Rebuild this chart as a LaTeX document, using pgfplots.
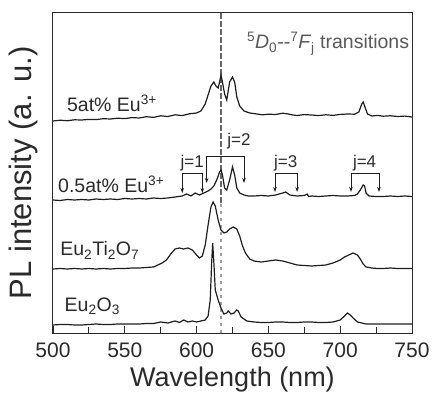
\documentclass[border=0pt]{standalone}
\usepackage{fontspec}
\setmainfont{Liberation Sans}
\usepackage{pgfplots}
\pgfplotsset{compat=1.18}
\usetikzlibrary{arrows.meta}

\definecolor{txt}{HTML}{2A2A2A}
\definecolor{ln}{HTML}{1E1E1E}

\pgfplotstableread{
x y
500 212
505 212.8
510 212.3
515 213.2
520 213
525 213.6
530 213.4
535 214.3
540 214
545 214.8
550 214.4
555 215.4
560 215
565 216.3
570 215.6
575 217.2
580 216.5
585 218.2
590 217.4
595 219.2
600 220
603 222
606 229
608 238
610 247
612 251
613.5 247
615 245
616 251
617 258
618 251
619.5 239
621 233
623 251
625 256
626.5 251
628 236
630 227
633 222
637 220
642 219
646 218.2
650 218.8
655 218.5
660 219.8
663 219.2
667 218
670 217.5
675 218.4
680 218
685 217.4
690 218.2
695 217.6
700 218.6
705 219
710 218.8
713 221
715 229
716 231
717 227
719 219
722 217
726 217.6
730 216.8
735 217.2
740 216.5
745 216.9
750 216
}\fivepct

\pgfplotstableread{
x y
500 133
505 132.5
510 133.5
515 133
520 133.5
525 133
530 134
535 133.5
540 134
545 133.5
550 134.5
555 134
560 134.5
565 134
570 135
575 134.5
580 135
585 136
590 137
593 139
596 137
599 140
602 138
605 140
608 142
610 144
612 147
614 153
616 161
617 163
618 158
619.5 145
621 143
623 153
625 166
626.5 158
628 145
630 140
633 138
636 137
640 137
645 137.5
650 137
655 138
660 140
662 141
665 138
670 137
675 137.5
677 139
678 136.5
680 137
685 136.5
690 137
695 137.5
700 137
705 137
710 137.5
712 139
714 143
716 148
717 147
718 140
720 137
725 136.5
730 136.5
735 137
740 136.5
745 137
750 136.5
}\halfpct

\pgfplotstableread{
x y
500 64
505 64.5
510 64
515 64.5
520 64
525 64.5
530 64
535 64.5
540 64
545 64.5
550 64.5
555 65
560 65
565 65.5
570 66
573 68
576 70
579 73
582 79
585 84
588 85
591 84
594 85
597 83
600 78
602 75
604 77
606 88
608 108
610 126
611.5 131
613 127
615 113
617 103
619 100
621 101
623 104
625.5 106
628 104
630 97
632 87
634 80
637 74
640 72
645 71
650 72
655 73
660 72
665 70
670 68
675 67.5
680 67
685 67.5
690 68
695 70
700 73
703 76
706 78
709 80
712 78
714 74
716 69
718 66
722 65
726 64.5
730 64.5
735 65
740 64.5
745 64.5
750 64.5
}\ettio

\pgfplotstableread{
x y
500 8
505 8.5
510 8.5
515 8
520 8
525 8.5
530 9
535 8.5
540 8.5
545 9
550 9
555 9
560 9
565 9.5
570 9.5
575 11
580 10
585 12
588 10.5
591 13
594 11
597 12
600 11
603 12
606 13
608 17
609.5 33
610.5 71
611.2 90
612 71
613 43
614 38
615 33
617 25
619 19
621 20
622 22
624 19
626 20
628 23
629 22
631 16
635 12
640 11
645 10.5
650 10.5
655 11
660 11
665 10.5
670 10.5
675 11
680 11
685 10.5
690 10.5
695 11
700 13
703 17
705 20
707 18
709 15
712 11
718 9
724 9
730 9
735 9
740 9
745 9
750 9
}\euo

\begin{document}
\begin{tikzpicture}
\begin{axis}[
    width=359pt, height=320pt,
    scale only axis,
    xmin=500, xmax=750,
    ymin=0, ymax=320,
    xtick={500,550,...,750},
    minor x tick num=1,
    ytick=\empty,
    xtick pos=bottom,
    tick align=inside,
    major tick length=7pt,
    minor tick length=6pt,
    axis line style={line width=1pt, color=txt},
    every tick/.style={line width=0.9pt, color=txt},
    /pgf/number format/assume math mode=true,
    xticklabel style={font=\fontsize{21}{21}\selectfont, text=txt, yshift=-6pt},
    xlabel={Wavelength (nm)},
    xlabel style={font=\fontsize{27}{27}\selectfont, text=txt, yshift=-3pt},
    ylabel={PL intensity (a. u.)},
    ylabel style={font=\fontsize{31}{31}\selectfont, text=txt,
        at={([xshift=-15pt]axis description cs:0,0.5)}, anchor=south, inner sep=0pt},
    clip=false,
]
% reference line at 617 nm
\draw[gray!75, line width=2pt, dash pattern=on 3pt off 4pt] (axis cs:617,0) -- (axis cs:617,130);
\draw[black!60, line width=2pt, dash pattern=on 6pt off 2pt] (axis cs:617,130) -- (axis cs:617,320);

\addplot[ln, line width=1.2pt] table[x=x,y=y] {\fivepct};
\addplot[ln, line width=1.2pt] table[x=x,y=y] {\halfpct};
\addplot[ln, line width=1.2pt] table[x=x,y=y] {\ettio};
\addplot[ln, line width=1.2pt] table[x=x,y=y] {\euo};

% transition brackets
\draw[ln, line width=0.8pt, {Stealth[length=5pt,width=3.5pt]}-{Stealth[length=5pt,width=3.5pt]}]
    (axis cs:590,140) |- (axis cs:604,160) -- (axis cs:604,140);
\draw[ln, line width=0.8pt, {Stealth[length=5pt,width=3.5pt]}-{Stealth[length=5pt,width=3.5pt]}]
    (axis cs:607,150) |- (axis cs:633,177) -- (axis cs:633,150);
\draw[ln, line width=0.8pt, {Stealth[length=5pt,width=3.5pt]}-{Stealth[length=5pt,width=3.5pt]}]
    (axis cs:654.6,141) |- (axis cs:670,160) -- (axis cs:670,141);
\draw[ln, line width=0.8pt, {Stealth[length=5pt,width=3.5pt]}-{Stealth[length=5pt,width=3.5pt]}]
    (axis cs:707.5,141) |- (axis cs:727,160) -- (axis cs:727,141);

\begin{scope}[every node/.style={font=\fontsize{17}{17}\selectfont, text=txt, inner sep=0pt}]
\node at (axis cs:597,170) {j=1};
\node at (axis cs:629.5,192) {j=2};
\node at (axis cs:662,170) {j=3};
\node at (axis cs:717,170) {j=4};
\end{scope}

\begin{scope}[every node/.style={font=\fontsize{19.5}{19.5}\selectfont, text=txt, inner sep=0pt, anchor=base west}]
\node at (axis cs:509.7,221) {5at\% Eu\textsuperscript{3+}};
\node at (axis cs:503.5,140) {0.5at\% Eu\textsuperscript{3+}};
\node at (axis cs:505,77) {Eu\textsubscript{2}Ti\textsubscript{2}O\textsubscript{7}};
\node at (axis cs:508,22) {Eu\textsubscript{2}O\textsubscript{3}};
\node[text=black!65] at (axis cs:635,284) {\textsuperscript{5}\textit{D}\textsubscript{0}-{}-\textsuperscript{7}\textit{F}\textsubscript{j} transitions};
\end{scope}

\coordinate (sw) at (rel axis cs:0,0);
\coordinate (ne) at (rel axis cs:1,1);
\end{axis}
\pgfresetboundingbox
\path ([xshift=-53pt,yshift=-68pt]sw) rectangle ([xshift=21pt,yshift=13pt]ne);
\end{tikzpicture}
\end{document}
